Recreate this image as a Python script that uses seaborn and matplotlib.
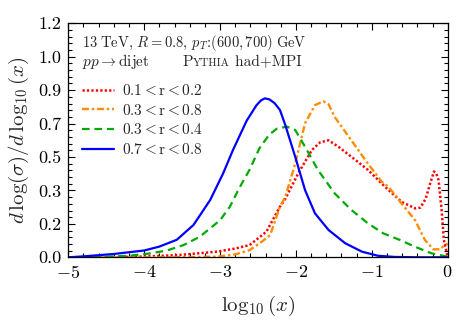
#Import Libraries:

import matplotlib
matplotlib.use("Agg")
import matplotlib.pyplot as plt
import seaborn as sns
from matplotlib.ticker import FixedLocator, FormatStrFormatter, AutoMinorLocator
from matplotlib.offsetbox import TextArea, HPacker, AnchoredOffsetbox

#Curves (x = log10(x), y = dlog(sigma)/dlog10(x))
red_x = [-5.0, -4.5, -4.0, -3.53, -3.04, -2.8, -2.61, -2.39, -2.21, -2.14, -1.97, -1.79, -1.68, -1.57,
         -1.44, -1.27, -1.05, -0.85, -0.78, -0.61, -0.43, -0.36, -0.29, -0.23, -0.18, -0.15, -0.12,
         -0.08, -0.05, 0.0]
red_y = [0.0, 0.0, 0.004, 0.012, 0.029, 0.045, 0.063, 0.131, 0.26, 0.30, 0.43, 0.55, 0.59, 0.60,
         0.567, 0.516, 0.448, 0.371, 0.345, 0.285, 0.251, 0.255, 0.30, 0.38, 0.44, 0.43, 0.396,
         0.243, 0.089, 0.0]

orange_x = [-5.0, -4.0, -3.5, -3.04, -2.8, -2.61, -2.45, -2.34, -2.21, -2.14, -2.01, -1.88, -1.75,
            -1.64, -1.57, -1.49, -1.27, -1.05, -0.87, -0.78, -0.61, -0.43, -0.30, -0.19, -0.10,
            -0.04, 0.0]
orange_y = [0.0, 0.0, 0.001, 0.003, 0.015, 0.037, 0.08, 0.114, 0.26, 0.31, 0.48, 0.687, 0.78,
            0.80, 0.785, 0.72, 0.60, 0.48, 0.388, 0.362, 0.277, 0.19, 0.089, 0.041, 0.041,
            0.063, 0.07]

green_x = [-5.0, -4.5, -4.2, -3.92, -3.7, -3.48, -3.27, -3.13, -3.0, -2.87, -2.74, -2.61, -2.48,
           -2.35, -2.25, -2.12, -2.01, -1.88, -1.71, -1.49, -1.27, -1.05, -0.85, -0.63, -0.43,
           -0.21, 0.0]
green_y = [0.0, 0.003, 0.008, 0.02, 0.035, 0.063, 0.105, 0.149, 0.19, 0.26, 0.36, 0.45, 0.56,
           0.63, 0.66, 0.67, 0.653, 0.567, 0.448, 0.328, 0.243, 0.174, 0.123, 0.089, 0.054,
           0.02, 0.003]

blue_x = [-5.0, -4.8, -4.4, -4.0, -3.8, -3.57, -3.35, -3.13, -2.96, -2.83, -2.65, -2.52, -2.46,
          -2.41, -2.35, -2.28, -2.21, -2.14, -2.01, -1.88, -1.75, -1.57, -1.35, -1.13, -0.92,
          -0.7, -0.4, 0.0]
blue_y = [0.0, 0.005, 0.017, 0.035, 0.055, 0.09, 0.166, 0.294, 0.43, 0.55, 0.70, 0.78, 0.805,
          0.815, 0.81, 0.79, 0.755, 0.678, 0.516, 0.345, 0.226, 0.14, 0.072, 0.029, 0.008,
          0.002, 0.0, 0.0]

labels = [r"$0.1 < \mathrm{r} < 0.2$", r"$0.3 < \mathrm{r} < 0.8$",
          r"$0.3 < \mathrm{r} < 0.4$", r"$0.7 < \mathrm{r} < 0.8$"]
y_ticks = [i * 1.2 / 7 for i in range(8)]
x_ticks = [-5, -4, -3, -2, -1, 0]

sns.set_style("ticks")
plt.rcParams["font.family"] = "serif"
plt.rcParams["font.serif"] = ["cmr10"]
plt.rcParams["mathtext.fontset"] = "cm"
plt.rcParams["axes.formatter.use_mathtext"] = True
plt.rcParams["lines.scale_dashes"] = False
plt.rcParams["axes.linewidth"] = 0.9
plt.rcParams["axes.edgecolor"] = "black"

fig = plt.figure(figsize=(4.57, 3.26), dpi=100)
ax = fig.add_axes([0.1495, 0.2107, 0.8301, 0.7178])

#series: x, y, colour, dash pattern, width
series = [
    (red_x, red_y, "#ff0000", (1.6, 1.6), 1.8),
    (orange_x, orange_y, "#ff8c00", (5.0, 2.0, 1.8, 2.0), 1.7),
    (green_x, green_y, "#00aa00", (5.5, 3.5), 1.6),
    (blue_x, blue_y, "#0000ff", None, 1.6),
]

for (xs, ys, col, dash, lw), lab in zip(series, labels):
    sns.lineplot(x=xs, y=ys, ax=ax, color=col, lw=lw, label=lab)
    line = ax.lines[-1]
    if dash is not None:
        line.set_dashes(dash)

ax.set_xlim(-5, 0)
ax.set_ylim(0, 1.2)
ax.xaxis.set_major_locator(FixedLocator(x_ticks))
ax.yaxis.set_major_locator(FixedLocator(y_ticks))
ax.yaxis.set_major_formatter(FormatStrFormatter("%.1f"))
ax.xaxis.set_minor_locator(AutoMinorLocator(5))
ax.yaxis.set_minor_locator(AutoMinorLocator(5))
ax.tick_params(which="both", direction="in", top=True, right=True, colors="black",
               labelsize=13, width=0.8)
ax.tick_params(which="major", length=5, pad=5)
ax.tick_params(which="minor", length=3)

ax.set_xlabel(r"$\log_{10}(x)$", fontsize=15, labelpad=9)
ax.set_ylabel(r"$d\,\log(\sigma)/d\,\log_{10}(x)$", fontsize=15, labelpad=5)

#top text lines
ax.text(0.036, 0.915, r"$13\;\mathrm{TeV},\,R=0.8,\,p_T\!:\!(600,700)\;\mathrm{GeV}$",
        transform=ax.transAxes, fontsize=10.5, va="center", ha="left")
ax.text(0.036, 0.835, r"$pp\rightarrow\mathrm{dijet}$",
        transform=ax.transAxes, fontsize=11, va="center", ha="left")

#small caps Pythia
boxes = [TextArea("P", textprops=dict(fontsize=11)),
         TextArea("YTHIA", textprops=dict(fontsize=8)),
         TextArea(" had+MPI", textprops=dict(fontsize=11))]
pack = HPacker(children=boxes, align="baseline", pad=0, sep=0)
anch = AnchoredOffsetbox(loc="center left", child=pack, pad=0, frameon=False,
                         bbox_to_anchor=(0.30, 0.835), bbox_transform=ax.transAxes,
                         borderpad=0)
ax.add_artist(anch)

leg = ax.legend(loc="upper left", bbox_to_anchor=(0.02, 0.77), frameon=False,
                fontsize=11, handlelength=2.1, handletextpad=0.5, labelspacing=0.3,
                borderaxespad=0)

fig.savefig("out.png", dpi=100)
